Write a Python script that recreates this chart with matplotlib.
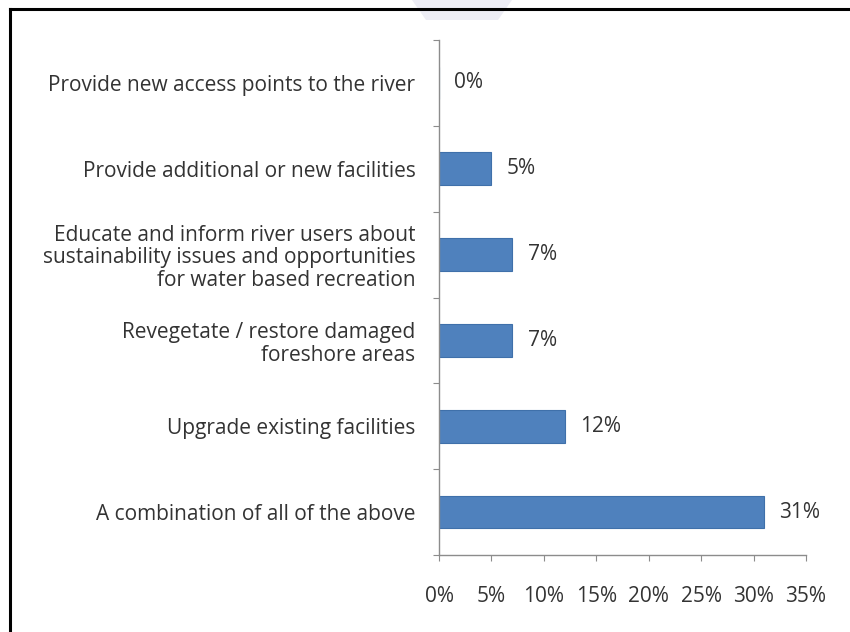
import matplotlib
matplotlib.use("Agg")
import matplotlib.pyplot as plt
from matplotlib.lines import Line2D
from matplotlib.patches import Polygon

# 回答項目（上から順に）
categories = [
    "Provide new access points to the river",
    "Provide additional or new facilities",
    "Educate and inform river users about\nsustainability issues and opportunities\nfor water based recreation",
    "Revegetate / restore damaged\nforeshore areas",
    "Upgrade existing facilities",
    "A combination of all of the above",
]
values = [0, 5, 7, 7, 12, 31]
xticks = [0, 5, 10, 15, 20, 25, 30, 35]
xtick_labels = ["0%", "5%", "10%", "15%", "20%", "25%", "30%", "35%"]

plt.rcParams['font.family'] = ['Open Sans', 'DejaVu Sans']
text_color = '#333333'
axis_color = '#8c8c8c'
fs = 15

fig = plt.figure(figsize=(8.5, 6.32), dpi=100)
ax = fig.add_axes([439 / 850, 1 - 555 / 632, 367 / 850, 515 / 632])

y = list(range(len(categories)))
ax.barh(y, values, height=0.38, color='#4F81BD', edgecolor='#3F70AA', linewidth=0.8)

# データラベル
for yi, v in zip(y, values):
    ax.annotate(f"{v}%", xy=(v, yi), xytext=(11, 0), textcoords='offset points',
                ha='left', va='center', fontsize=fs, color=text_color)

ax.set_xlim(0, 35)
ax.set_ylim(len(categories) - 0.5, -0.5)

ax.set_xticks(xticks)
ax.set_xticklabels(xtick_labels)
ax.set_yticks([i - 0.5 for i in range(len(categories) + 1)], minor=False)
ax.set_yticklabels([])
ax.set_yticks(y, minor=True)
ax.set_yticklabels(categories, minor=True, linespacing=1.1)

ax.tick_params(axis='y', which='major', length=4, color=axis_color, direction='out')
ax.tick_params(axis='y', which='minor', length=0, pad=17, labelsize=fs, labelcolor=text_color)
ax.tick_params(axis='x', length=4, color=axis_color, direction='out', pad=18,
               labelsize=fs, labelcolor=text_color)

for side in ['top', 'right']:
    ax.spines[side].set_visible(False)
for side in ['left', 'bottom']:
    ax.spines[side].set_color(axis_color)
    ax.spines[side].set_linewidth(1)

# 外枠（上と左）
fig.add_artist(Line2D([10 / 850, 1], [1 - 9 / 632, 1 - 9 / 632], color='black', linewidth=2.2,
                      transform=fig.transFigure))
fig.add_artist(Line2D([10 / 850, 10 / 850], [0, 1 - 9 / 632], color='black', linewidth=2.2,
                      transform=fig.transFigure))
# 上部の薄い透かし
fig.add_artist(Polygon([[412 / 850, 1], [512 / 850, 1], [498 / 850, 1 - 20 / 632], [426 / 850, 1 - 20 / 632]],
                       closed=True, facecolor='#ededf5', edgecolor='none', transform=fig.transFigure,
                       zorder=-1))

fig.savefig("out.png", dpi=100)
